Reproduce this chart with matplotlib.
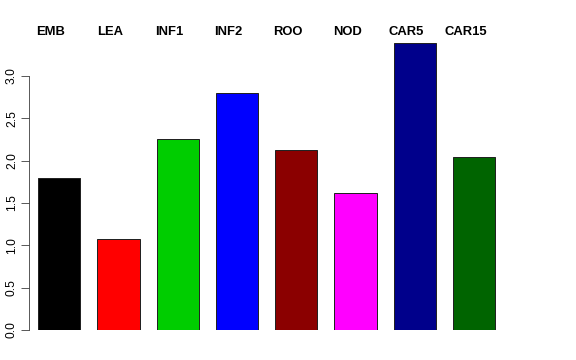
import numpy as np
import matplotlib
matplotlib.use("Agg")
import matplotlib.pyplot as plt

# DATA
tissues = ["EMB", "LEA", "INF1", "INF2", "ROO", "NOD", "CAR5", "CAR15"]
values = [1.795, 1.074, 2.255, 2.80, 2.12, 1.614, 3.39, 2.04]
colors = ["#000000", "#FF0000", "#00CD00", "#0000FF",
          "#8B0000", "#FF00FF", "#00008B", "#006400"]
yticks = [0.0, 0.5, 1.0, 1.5, 2.0, 2.5, 3.0]

# FIGURE (72 dpi so points == pixels)
fig = plt.figure(figsize=(8, 5), dpi=72)
ax = fig.add_axes([29 / 576, 30 / 360, 481 / 576, 288 / 360])

x = np.arange(len(tissues))
ax.bar(x, values, width=0.714, color=colors, edgecolor="#222222", linewidth=1.0)
ax.set_xlim(-0.511, 7.609)
ax.set_ylim(0, 3.4)

# R-style axis: only the left one, line spanning the ticks
for side in ["top", "right", "bottom"]:
    ax.spines[side].set_visible(False)
ax.spines["left"].set_bounds(0, 3)
ax.spines["left"].set_linewidth(0.8)
ax.spines["left"].set_color("#333333")
ax.set_xticks([])
ax.set_yticks(yticks)
ax.set_yticklabels(["%.1f" % t for t in yticks], rotation=90, va="center",
                   family="Liberation Sans", fontsize=12)
ax.tick_params(axis="y", length=8, width=0.8, color="#333333", pad=3)

# tissue names above the bars
for i, name in enumerate(tissues):
    ax.text(x[i] - 0.14, 1.024, name, transform=ax.get_xaxis_transform(),
            ha="center", va="baseline", fontsize=13, fontweight="bold",
            family="Liberation Sans")

fig.savefig("out.png", dpi=72)
